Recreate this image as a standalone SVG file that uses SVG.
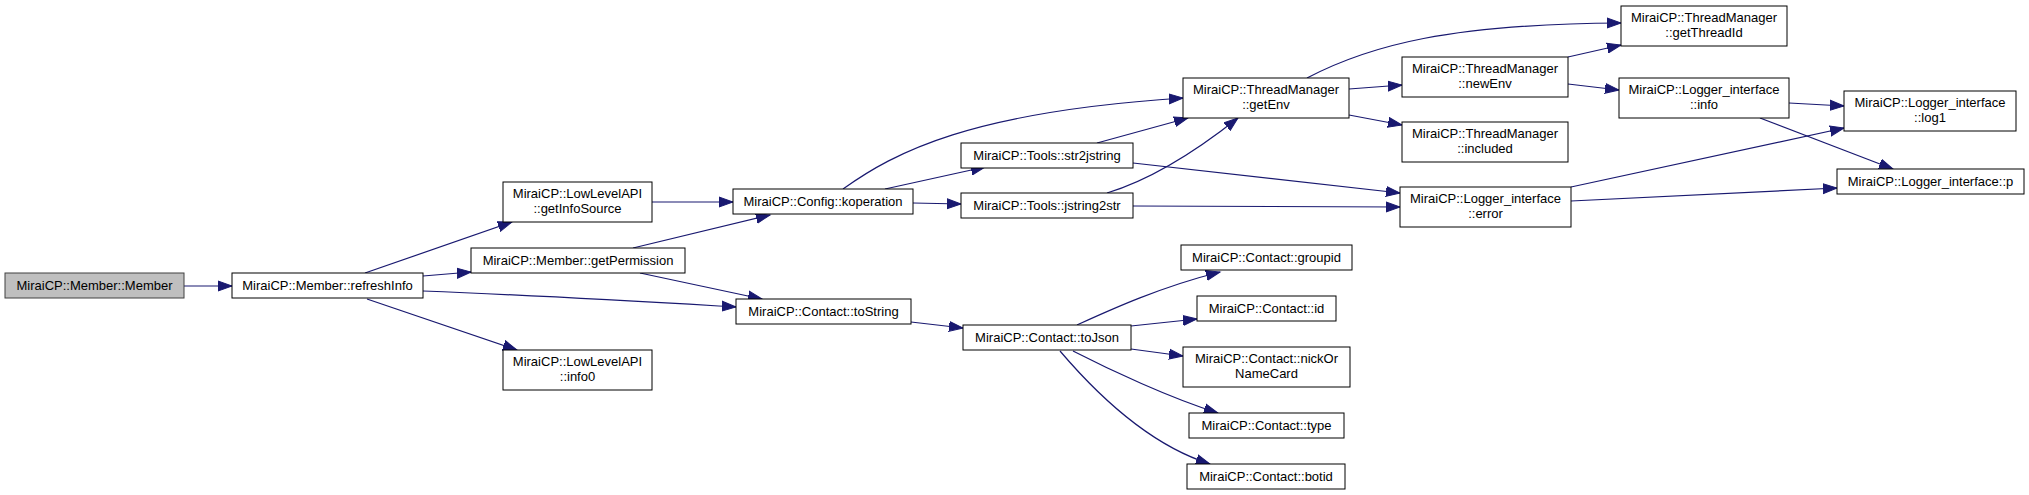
<svg xmlns="http://www.w3.org/2000/svg" width="2029" height="495" viewBox="0 0 2029 495">
<style>
.n rect{fill:#ffffff;stroke:#000000;stroke-width:1}
.n text{font-family:"Liberation Sans",Arial,sans-serif;font-size:13px;text-anchor:middle;fill:#000000}
.root rect{fill:#bfbfbf;stroke:#404040}
.e path{fill:none;stroke:#191970;stroke-width:1.2;marker-end:url(#ah)}
</style>
<defs>
<marker id="ah" markerUnits="userSpaceOnUse" markerWidth="16" markerHeight="12" viewBox="0 -6 16 12" refX="14" refY="0" orient="auto">
<path d="M0,-5 L14,0 L0,5 Z" fill="#191970" stroke="#191970" stroke-width="1"/>
</marker>
</defs>
<rect width="2029" height="495" fill="#ffffff"/>
<g id="edges" class="e">
<path d="M184,286 L232,286"/>
<path d="M365,273 L512,222"/>
<path d="M423,276 L471,272"/>
<path d="M423,291 C550,296 650,302 736,307"/>
<path d="M367,299 L517,350"/>
<path d="M652,202 L733,202"/>
<path d="M633,248 L770,215"/>
<path d="M640,273 L762,299"/>
<path d="M911,322 L963,328"/>
<path d="M843,189 C895,152 970,112 1183,98"/>
<path d="M885,189 L985,167"/>
<path d="M913,203 L961,204"/>
<path d="M1097,143 L1188,118"/>
<path d="M1107,193 C1150,180 1195,152 1238,118"/>
<path d="M1133,163 L1400,193"/>
<path d="M1133,206 L1400,207"/>
<path d="M1307,78 C1370,45 1450,24 1621,23"/>
<path d="M1349,89 L1402,85"/>
<path d="M1349,115 L1402,125"/>
<path d="M1568,57 L1621,45"/>
<path d="M1568,84 L1619,90"/>
<path d="M1571,187 L1844,128"/>
<path d="M1571,201 L1837,188"/>
<path d="M1789,103 L1844,106"/>
<path d="M1760,118 L1893,169"/>
<path d="M1077,325 C1110,310 1160,287 1220,272"/>
<path d="M1131,326 L1197,319"/>
<path d="M1131,349 L1183,356"/>
<path d="M1073,351 C1110,370 1170,398 1218,413"/>
<path d="M1060,351 C1100,398 1150,445 1210,464"/>
</g>
<g id="n_member" class="n root"><rect x="5" y="273" width="179" height="25"/><text x="94.5" y="290">MiraiCP::Member::Member</text></g>
<g id="n_refreshInfo" class="n"><rect x="232" y="273" width="191" height="25"/><text x="327.5" y="290">MiraiCP::Member::refreshInfo</text></g>
<g id="n_getInfoSource" class="n"><rect x="503" y="182" width="149" height="40"/><text x="577.5" y="198">MiraiCP::LowLevelAPI</text><text x="577.5" y="213">::getInfoSource</text></g>
<g id="n_getPermission" class="n"><rect x="471" y="248" width="214" height="25"/><text x="578" y="265">MiraiCP::Member::getPermission</text></g>
<g id="n_info0" class="n"><rect x="503" y="350" width="149" height="40"/><text x="577.5" y="366">MiraiCP::LowLevelAPI</text><text x="577.5" y="381">::info0</text></g>
<g id="n_koperation" class="n"><rect x="733" y="189" width="180" height="25"/><text x="823" y="206">MiraiCP::Config::koperation</text></g>
<g id="n_toString" class="n"><rect x="736" y="299" width="175" height="25"/><text x="823.5" y="316">MiraiCP::Contact::toString</text></g>
<g id="n_str2jstring" class="n"><rect x="961" y="143" width="172" height="25"/><text x="1047" y="160">MiraiCP::Tools::str2jstring</text></g>
<g id="n_jstring2str" class="n"><rect x="961" y="193" width="172" height="25"/><text x="1047" y="210">MiraiCP::Tools::jstring2str</text></g>
<g id="n_toJson" class="n"><rect x="963" y="325" width="168" height="25"/><text x="1047" y="342">MiraiCP::Contact::toJson</text></g>
<g id="n_getEnv" class="n"><rect x="1183" y="78" width="166" height="40"/><text x="1266" y="94">MiraiCP::ThreadManager</text><text x="1266" y="109">::getEnv</text></g>
<g id="n_groupid" class="n"><rect x="1181" y="245" width="171" height="25"/><text x="1266.5" y="262">MiraiCP::Contact::groupid</text></g>
<g id="n_id" class="n"><rect x="1197" y="296" width="139" height="25"/><text x="1266.5" y="313">MiraiCP::Contact::id</text></g>
<g id="n_nickOrNameCard" class="n"><rect x="1183" y="347" width="167" height="40"/><text x="1266.5" y="363">MiraiCP::Contact::nickOr</text><text x="1266.5" y="378">NameCard</text></g>
<g id="n_type" class="n"><rect x="1189" y="413" width="155" height="25"/><text x="1266.5" y="430">MiraiCP::Contact::type</text></g>
<g id="n_botid" class="n"><rect x="1187" y="464" width="158" height="25"/><text x="1266" y="481">MiraiCP::Contact::botid</text></g>
<g id="n_newEnv" class="n"><rect x="1402" y="57" width="166" height="40"/><text x="1485" y="73">MiraiCP::ThreadManager</text><text x="1485" y="88">::newEnv</text></g>
<g id="n_included" class="n"><rect x="1402" y="122" width="166" height="40"/><text x="1485" y="138">MiraiCP::ThreadManager</text><text x="1485" y="153">::included</text></g>
<g id="n_error" class="n"><rect x="1400" y="187" width="171" height="40"/><text x="1485.5" y="203">MiraiCP::Logger_interface</text><text x="1485.5" y="218">::error</text></g>
<g id="n_getThreadId" class="n"><rect x="1621" y="6" width="166" height="40"/><text x="1704" y="22">MiraiCP::ThreadManager</text><text x="1704" y="37">::getThreadId</text></g>
<g id="n_info" class="n"><rect x="1619" y="78" width="170" height="40"/><text x="1704" y="94">MiraiCP::Logger_interface</text><text x="1704" y="109">::info</text></g>
<g id="n_log1" class="n"><rect x="1844" y="91" width="172" height="40"/><text x="1930" y="107">MiraiCP::Logger_interface</text><text x="1930" y="122">::log1</text></g>
<g id="n_p" class="n"><rect x="1837" y="169" width="187" height="25"/><text x="1930.5" y="186">MiraiCP::Logger_interface::p</text></g>
</svg>
